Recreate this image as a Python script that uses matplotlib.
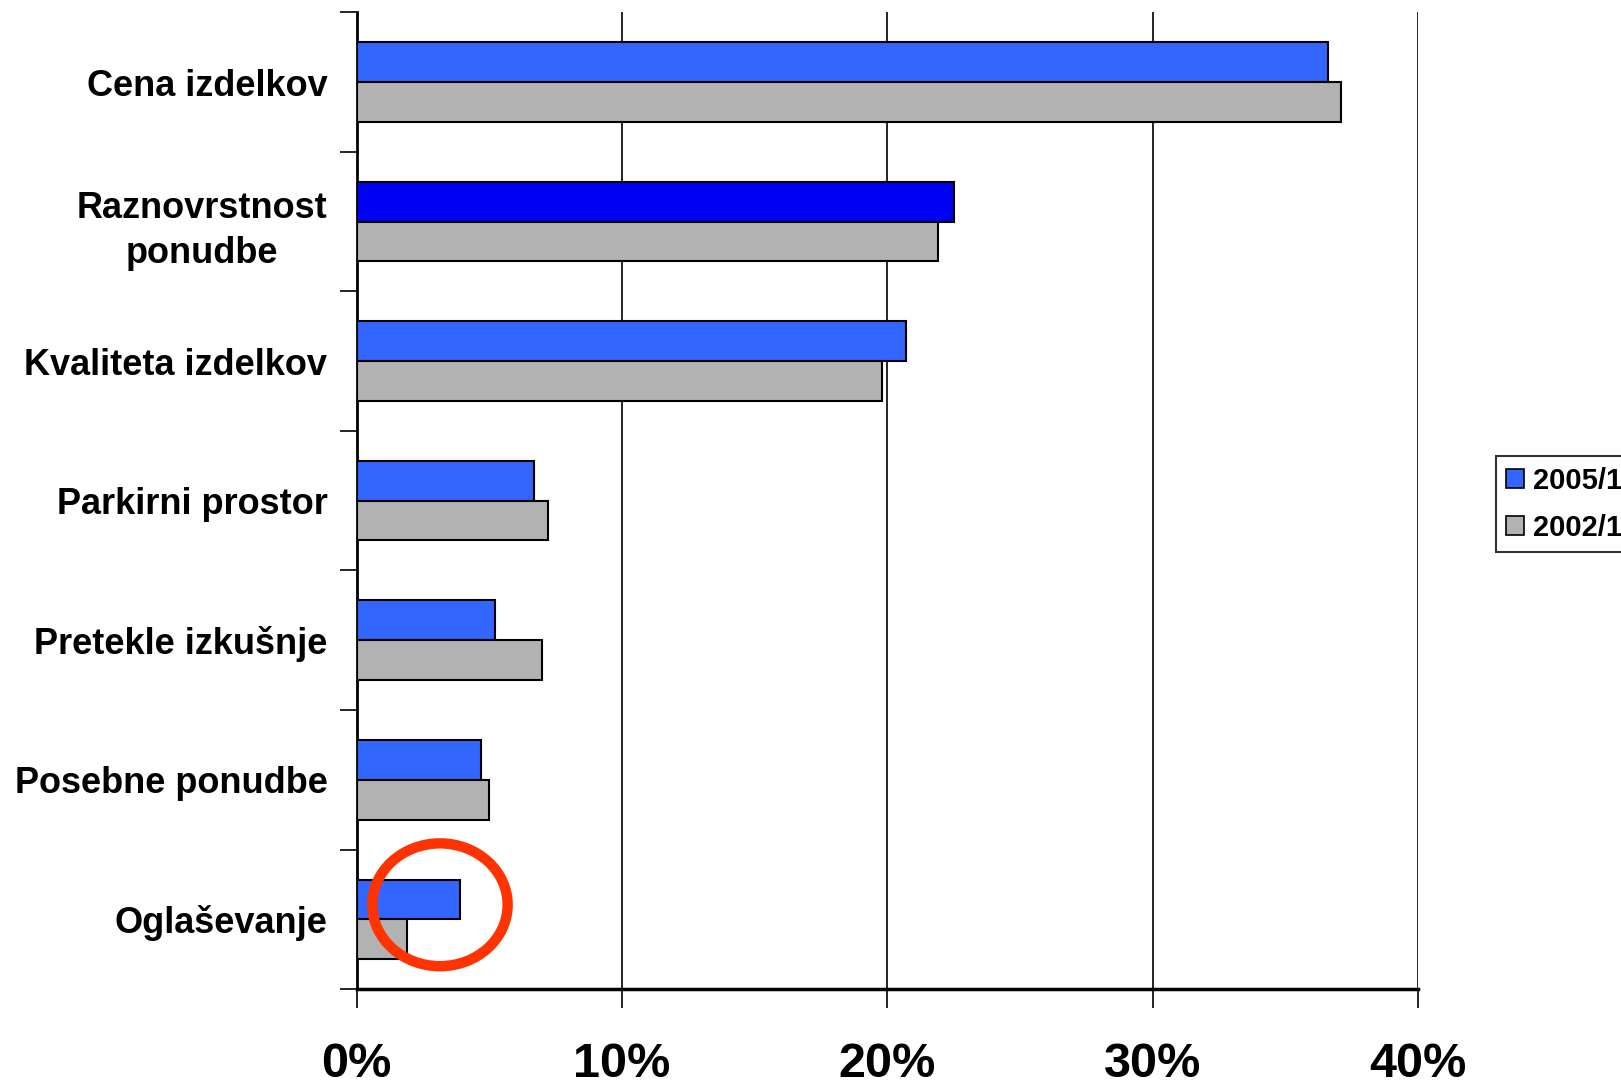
import matplotlib

matplotlib.use("Agg")

import matplotlib.pyplot as plt
from matplotlib.patches import Ellipse, Patch

categories = [
    "Cena izdelkov",
    "Raznovrstnost\nponudbe",
    "Kvaliteta izdelkov",
    "Parkirni prostor",
    "Pretekle izkušnje",
    "Posebne ponudbe",
    "Oglaševanje",
]
share_2005 = [36.6, 22.5, 20.7, 6.7, 5.2, 4.7, 3.9]
share_2002 = [37.1, 21.9, 19.8, 7.2, 7.0, 5.0, 1.9]
series_labels = ["2005/1", "2002/1"]
xticks = [0, 10, 20, 30, 40]

BLUE = "#3366FF"
DARK_BLUE = "#0000F5"
GRAY = "#B2B2B2"
HIGHLIGHT = 1  # Raznovrstnost ponudbe bar is drawn darker

plt.rcParams["font.family"] = ["Liberation Sans", "DejaVu Sans"]
plt.rcParams["font.weight"] = "bold"

fig = plt.figure(figsize=(16.21, 10.84), dpi=100)
ax = fig.add_axes([0.220, 0.0876, 0.655, 0.901])

h = 0.285
y = list(range(len(categories)))
blue_colors = [DARK_BLUE if i == HIGHLIGHT else BLUE for i in y]
ax.barh([i - h / 2 for i in y], share_2005, height=h, color=blue_colors,
        edgecolor="black", linewidth=1.5, zorder=3)
ax.barh([i + h / 2 for i in y], share_2002, height=h, color=GRAY,
        edgecolor="black", linewidth=1.5, zorder=3)

ax.set_xlim(0, 40)
ax.set_ylim(len(categories) - 0.5, -0.5)
ax.set_xticks(xticks)
ax.set_xticklabels([f"{t}%" for t in xticks], family=["Liberation Sans Narrow", "Liberation Sans"],
                   fontsize=35, fontweight="bold")
ax.tick_params(axis="x", length=14, width=1.2, pad=24)

ax.set_yticks([i - 0.5 for i in range(len(categories) + 1)], minor=False)
ax.set_yticklabels([])
ax.set_yticks(y, minor=True)
ax.set_yticklabels(categories, minor=True, fontsize=26, fontweight="bold",
                   ha="right", multialignment="center", linespacing=1.4)
ax.tick_params(axis="y", which="major", length=12, width=1.2)
ax.tick_params(axis="y", which="minor", length=0, pad=21)

ax.grid(axis="x", color="black", linewidth=1.2, zorder=1)
for side in ["top", "right"]:
    ax.spines[side].set_visible(False)
ax.spines["left"].set_linewidth(2)
ax.spines["bottom"].set_linewidth(2.5)

circle = Ellipse((3.14, 5.896), width=5.10, height=0.88, fill=False,
                 edgecolor="#FF3300", linewidth=7.5, zorder=5, clip_on=False)
ax.add_patch(circle)

handles = [Patch(facecolor=BLUE, edgecolor="black", linewidth=1.2),
           Patch(facecolor=GRAY, edgecolor="black", linewidth=1.2)]
leg = fig.legend(handles, series_labels, loc="upper left", bbox_to_anchor=(0.923, 0.579),
                 borderaxespad=0, frameon=True, fancybox=False, edgecolor="black",
                 handlelength=0.62, handleheight=0.62, handletextpad=0.3,
                 borderpad=0.35, labelspacing=0.65, prop={"weight": "bold", "size": 21})
leg.get_frame().set_linewidth(1.5)

fig.savefig("out.png", dpi=100)
